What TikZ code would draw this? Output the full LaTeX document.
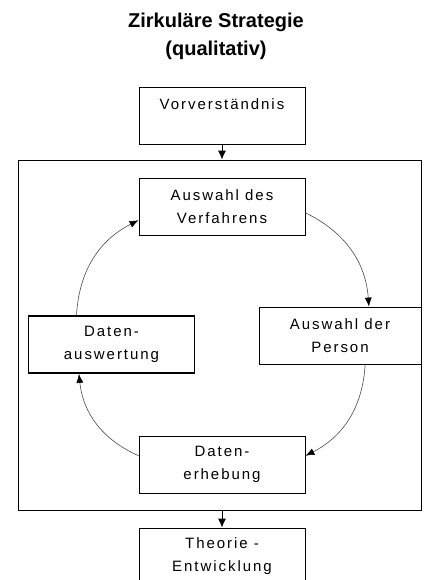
\documentclass[tikz,border=0pt]{standalone}
\usepackage{fontspec}
\setmainfont{Liberation Sans}
\newfontfamily\boxfont[LetterSpace=13]{Liberation Sans}
\usetikzlibrary{arrows.meta,shadows}

\begin{document}
\begin{tikzpicture}[x=1pt,y=1pt,
  box/.style={draw, fill=white, line width=0.8pt, minimum width=166pt,
    minimum height=57pt, inner sep=0pt, align=center,
    font=\boxfont\fontsize{15}{23}\selectfont,
    drop shadow={shadow xshift=0.9pt, shadow yshift=-0.9pt, opacity=1, fill=black}},
  heavybox/.style={box, line width=1.7pt},
  frame/.style={draw, fill=white, line width=0.8pt, inner sep=0pt,
    drop shadow={shadow xshift=0pt, shadow yshift=-1pt, opacity=1, fill=black}},
  down/.style={line width=0.9pt, -{Latex[length=9pt,width=8pt]}},
  cycle/.style={line width=0.6pt, black!70,
    -{Latex[length=9pt,width=7pt,fill=black,color=black]}, bend left},
  title/.style={align=center, font=\bfseries\fontsize{20}{28}\selectfont}
]
\useasboundingbox (0,0) rectangle (424,-580);
\clip (0,0) rectangle (424,-580);

% heading
\node[title] (titel) at (216,-36) {Zirkuläre Strategie\\(qualitativ)};

% frame around the research cycle
\node[frame, minimum width=403.5pt, minimum height=350pt] (zyklus) at (219.75,-335) {};

% boxes
\node[box] (vor) at (222,-115.5) {Vorverständnis\\\mbox{}};
\node[box] (ver) at (222,-207) {Auswahl des\\Verfahrens};
\node[box, minimum width=162pt] (per) at (340,-335.5) {Auswahl der\\Person};
\node[box] (ere) at (222,-464.5) {Daten-\\erhebung};
\node[heavybox] (aus) at (111.5,-344.5) {Daten-\\auswertung};
\node[box] (the) at (222,-556.5) {Theorie -\\Entwicklung};

% entry and exit of the cycle
\draw[down] (vor.south) -- (zyklus.north -| vor.south);
\draw[down] (zyklus.south -| the.north) -- (the.north);

% the circular research process
\draw[cycle, bend angle=22] (ver.-4) to (per.45);
\draw[cycle, bend angle=22] (per.-49) to (ere.6);
\draw[cycle, bend angle=20] (ere.174) to (aus.-138);
\draw[cycle, bend angle=23] (aus.140) to (ver.189);
\end{tikzpicture}
\end{document}
